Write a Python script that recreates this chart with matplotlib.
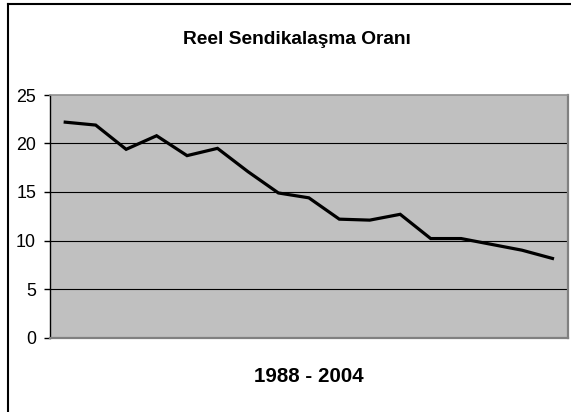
import matplotlib
matplotlib.use("Agg")
import matplotlib.pyplot as plt
from matplotlib.lines import Line2D
from matplotlib import font_manager

years = list(range(1988, 2005))
rates = [22.2, 21.9, 19.4, 20.8, 18.75, 19.5, 17.1, 14.9, 14.4, 12.2, 12.1, 12.7, 10.2, 10.2, 9.6, 9.0, 8.15]
yticks = [0, 5, 10, 15, 20, 25]
title = "Reel Sendikalaşma Oranı"
xlabel = "1988 - 2004"

names = {f.name for f in font_manager.fontManager.ttflist}
fam = ["Liberation Sans Narrow", "Liberation Sans", "DejaVu Sans"]
fam = [f for f in fam if f in names] or ["DejaVu Sans"]
plt.rcParams['font.family'] = fam
narrow = fam[0] == "Liberation Sans Narrow"
k = 1.0 if narrow else 0.92

W, H = 571, 412
fig = plt.figure(figsize=(W / 100, H / 100), dpi=100)
ax = fig.add_axes([50 / W, 1 - 337.5 / H, (567.7 - 50) / W, (337.5 - 95) / H])
ax.set_facecolor("#C0C0C0")

x = list(range(len(years)))
ax.plot(x, rates, color="black", lw=2.3, solid_joinstyle="miter", zorder=3)
ax.set_xlim(-0.5, len(years) - 0.5)
ax.set_ylim(0, 25)
ax.set_yticks(yticks)
ax.set_yticklabels([str(v) for v in yticks], fontsize=14 * k)
ax.set_xticks([])
for v in yticks[1:-1]:
    ax.axhline(v, color="black", lw=0.8, zorder=1)

ax.spines["top"].set_color("#909090")
ax.spines["top"].set_linewidth(1.2)
for s in ["right", "bottom"]:
    ax.spines[s].set_color("#808080")
    ax.spines[s].set_linewidth(1.6)
ax.spines["left"].set_color("black")
ax.spines["left"].set_linewidth(1.0)
ax.tick_params(axis="y", direction="out", length=4, width=1, pad=6, colors="black")

fig.text(297 / W, 1 - 39 / H, title, ha="center", va="center", fontsize=15 * k, fontweight="bold")
fig.text(308.6 / W, 1 - 377 / H, xlabel, ha="center", va="center", fontsize=16 * k, fontweight="bold")

# outer chart frame (cut at right and bottom)
fig.add_artist(Line2D([7.5 / W, 7.5 / W], [0, 1 - 3.5 / H], color="black", lw=1.5, transform=fig.transFigure))
fig.add_artist(Line2D([7.5 / W, 1], [1 - 3.5 / H, 1 - 3.5 / H], color="black", lw=1.5, transform=fig.transFigure))

fig.savefig("out.png", dpi=100)
